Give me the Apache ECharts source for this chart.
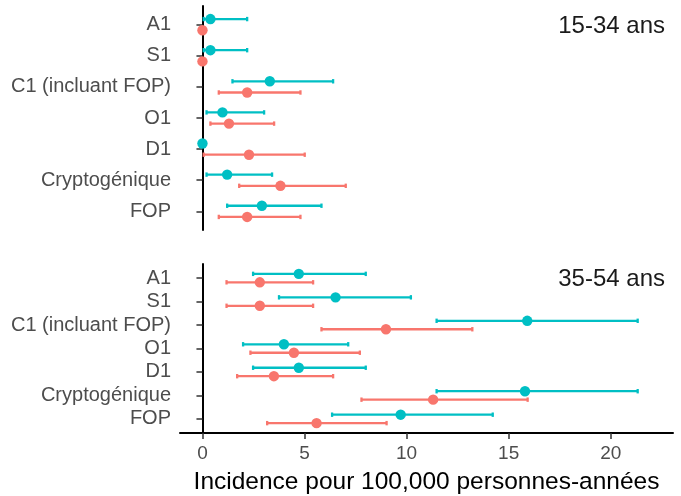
<!DOCTYPE html>
<html>
<head>
<meta charset="utf-8">
<script src="https://cdn.jsdelivr.net/npm/echarts@6/dist/echarts.min.js"></script>
<style>
  html, body { margin: 0; padding: 0; background: #ffffff; }
  #chart { width: 681px; height: 496px; }
</style>
</head>
<body>
<div id="chart"></div>
<script>
// Categories (top to bottom)
var categories = ['A1', 'S1', 'C1 (incluant FOP)', 'O1', 'D1', 'Cryptogénique', 'FOP'];
var panelLabels = ['15-34 ans', '35-54 ans'];
var xTicks = [0, 5, 10, 15, 20];

// 15-34 ans : [low, estimate, high]
var young_teal_low  = [0.06, 0.06, 1.47, 0.20, 0.00, 0.20, 1.21];
var young_teal_est  = [0.39, 0.39, 3.30, 0.98, 0.00, 1.21, 2.91];
var young_teal_high = [2.19, 2.19, 6.40, 3.02, 0.00, 3.41, 5.83];
var young_red_low   = [0.00, 0.00, 0.80, 0.39, 0.06, 1.80, 0.80];
var young_red_est   = [0.00, 0.00, 2.19, 1.30, 2.28, 3.82, 2.19];
var young_red_high  = [0.00, 0.00, 4.80, 3.51, 5.01, 7.02, 4.80];

// 35-54 ans
var old_teal_low  = [2.48, 3.75, 11.47, 1.99, 2.48, 11.47, 6.35];
var old_teal_est  = [4.72, 6.52, 15.91, 3.99, 4.72, 15.80, 9.71];
var old_teal_high = [8.00, 10.21, 21.32, 7.14, 8.00, 21.32, 14.22];
var old_red_low   = [1.18, 1.18, 5.83, 2.35, 1.70, 7.79, 3.17];
var old_red_est   = [2.81, 2.81, 8.99, 4.48, 3.50, 11.30, 5.59];
var old_red_high  = [5.42, 5.42, 13.22, 7.71, 6.40, 15.93, 9.02];

var TEAL = '#00BFC4';
var RED = '#F8766D';
var FONT = 'Liberation Sans, Arial, sans-serif';

function rows(low, est, high) {
  return categories.map(function (c, i) { return [i, low[i], est[i], high[i]]; });
}

function makeRender(offset) {
  return function (params, api) {
    var y = api.value(0) + offset;
    var lo = api.coord([api.value(1), y]);
    var est = api.coord([api.value(2), y]);
    var hi = api.coord([api.value(3), y]);
    var color = api.visual('color');
    var cap = 2.2;
    var lw = 2.3;
    return {
      type: 'group',
      children: [
        { type: 'line', shape: { x1: lo[0], y1: lo[1], x2: hi[0], y2: hi[1] }, style: { stroke: color, lineWidth: lw } },
        { type: 'line', shape: { x1: lo[0], y1: lo[1] - cap, x2: lo[0], y2: lo[1] + cap }, style: { stroke: color, lineWidth: lw } },
        { type: 'line', shape: { x1: hi[0], y1: hi[1] - cap, x2: hi[0], y2: hi[1] + cap }, style: { stroke: color, lineWidth: lw } },
        { type: 'circle', shape: { cx: est[0], cy: est[1], r: 5.2 }, style: { fill: color } }
      ]
    };
  };
}

var xMin = -1.1, xMax = 23.05;
var DODGE = 0.18;

function yAxisCfg(gridIndex) {
  return {
    type: 'value', gridIndex: gridIndex, min: -0.6, max: 6.6, inverse: true,
    splitLine: { show: false },
    axisLine: { show: true, lineStyle: { color: '#000', width: 2 } },
    axisTick: { show: true, length: 6, customValues: [0, 1, 2, 3, 4, 5, 6], lineStyle: { color: '#333', width: 1.5 } },
    axisLabel: {
      customValues: [0, 1, 2, 3, 4, 5, 6],
      formatter: function (v) { return categories[Math.round(v)]; },
      color: '#4D4D4D', fontSize: 20, fontFamily: FONT, margin: 9
    }
  };
}

var chart = echarts.init(document.getElementById('chart'), null, { renderer: 'canvas' });
chart.setOption({
  animation: false,
  backgroundColor: '#ffffff',
  grid: [
    { left: 180, right: 8, top: 6, height: 224, containLabel: false, outerBoundsMode: 'none' },
    { left: 180, right: 8, top: 264, height: 169, containLabel: false, outerBoundsMode: 'none' }
  ],
  xAxis: [
    { type: 'value', gridIndex: 0, min: xMin, max: xMax, show: false, splitLine: { show: false } },
    {
      type: 'value', gridIndex: 1, min: xMin, max: xMax,
      splitLine: { show: false },
      axisLine: { show: true, onZero: false, lineStyle: { color: '#000', width: 2 } },
      axisTick: { show: true, length: 6, customValues: xTicks, lineStyle: { color: '#333', width: 1.5 } },
      axisLabel: { customValues: xTicks, color: '#4D4D4D', fontSize: 19, fontFamily: FONT, margin: 11 },
      name: 'Incidence pour 100,000 personnes-années',
      nameLocation: 'middle', nameGap: 37,
      nameTextStyle: { color: '#000', fontSize: 24.5, fontFamily: FONT }
    }
  ],
  yAxis: [yAxisCfg(0), yAxisCfg(1)],
  graphic: [
    { type: 'text', x: 665, y: 26, style: { text: panelLabels[0], fill: '#1A1A1A', font: '24px ' + FONT, textAlign: 'right', textVerticalAlign: 'middle' } },
    { type: 'text', x: 665, y: 279, style: { text: panelLabels[1], fill: '#1A1A1A', font: '24px ' + FONT, textAlign: 'right', textVerticalAlign: 'middle' } }
  ],
  series: [
    { name: 'Femmes', type: 'custom', xAxisIndex: 0, yAxisIndex: 0, itemStyle: { color: RED }, renderItem: makeRender(DODGE), data: rows(young_red_low, young_red_est, young_red_high) },
    { name: 'Hommes', type: 'custom', xAxisIndex: 0, yAxisIndex: 0, itemStyle: { color: TEAL }, renderItem: makeRender(-DODGE), data: rows(young_teal_low, young_teal_est, young_teal_high) },
    { name: 'Femmes', type: 'custom', xAxisIndex: 1, yAxisIndex: 1, itemStyle: { color: RED }, renderItem: makeRender(DODGE), data: rows(old_red_low, old_red_est, old_red_high) },
    { name: 'Hommes', type: 'custom', xAxisIndex: 1, yAxisIndex: 1, itemStyle: { color: TEAL }, renderItem: makeRender(-DODGE), data: rows(old_teal_low, old_teal_est, old_teal_high) }
  ]
});
</script>
</body>
</html>
